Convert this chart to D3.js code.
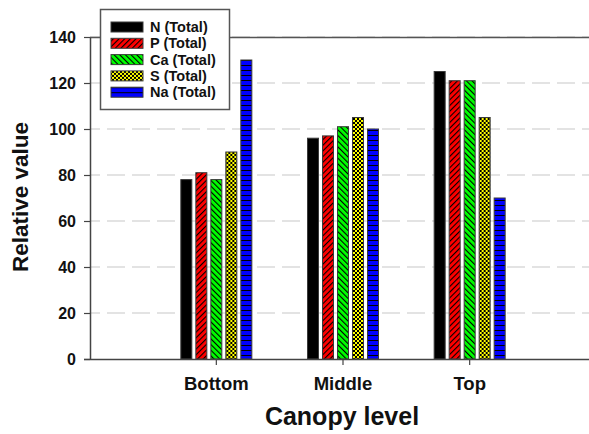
<!DOCTYPE html>
<html>
<head>
<meta charset="utf-8">
<script src="https://cdn.jsdelivr.net/npm/d3@7"></script>
<style>
html,body{margin:0;padding:0;background:#fff;}
svg{display:block;font-family:"Liberation Sans",Arial,sans-serif;font-weight:bold;}
</style>
</head>
<body>
<svg id="chart" width="589" height="434"></svg>
<script>
const categories = ["Bottom", "Middle", "Top"];
const seriesNames = ["N (Total)", "P (Total)", "Ca (Total)", "S (Total)", "Na (Total)"];
const N_vals  = [78, 96, 125];
const P_vals  = [81, 97, 121];
const Ca_vals = [78, 101, 121];
const S_vals  = [90, 105, 105];
const Na_vals = [130, 100, 70];
const yTicks = [0, 20, 40, 60, 80, 100, 120, 140];
const seriesValues = [N_vals, P_vals, Ca_vals, S_vals, Na_vals];
const fills = ["url(#pN)", "url(#pP)", "url(#pCa)", "url(#pS)", "url(#pNa)"];

const svg = d3.select("#chart");
const defs = svg.append("defs");

// patterns
const pN = defs.append("pattern").attr("id","pN").attr("patternUnits","userSpaceOnUse").attr("width",4).attr("height",4);
pN.append("rect").attr("width",4).attr("height",4).attr("fill","#000");

function hatch(id, color, angle){
  const p = defs.append("pattern").attr("id",id).attr("patternUnits","userSpaceOnUse")
    .attr("width",4).attr("height",4).attr("patternTransform","rotate("+angle+")");
  p.append("rect").attr("width",4).attr("height",4).attr("fill",color);
  p.append("line").attr("x1",0).attr("y1",0).attr("x2",0).attr("y2",4).attr("stroke","#000").attr("stroke-width",2.2);
}
hatch("pP", "#ff0000", 45);
hatch("pCa", "#00ff00", -45);

const pS = defs.append("pattern").attr("id","pS").attr("patternUnits","userSpaceOnUse").attr("width",4).attr("height",4);
pS.append("rect").attr("width",4).attr("height",4).attr("fill","#ffff00");
pS.append("rect").attr("x",0).attr("y",0).attr("width",2).attr("height",2).attr("fill","#000");
pS.append("rect").attr("x",2).attr("y",2).attr("width",2).attr("height",2).attr("fill","#000");

const pNa = defs.append("pattern").attr("id","pNa").attr("patternUnits","userSpaceOnUse").attr("width",5).attr("height",5);
pNa.append("rect").attr("width",5).attr("height",5).attr("fill","#0000ff");
pNa.append("line").attr("x1",0).attr("y1",0.5).attr("x2",5).attr("y2",0.5).attr("stroke","#000").attr("stroke-width",1);

// scales
const y = d3.scaleLinear().domain([0,140]).range([359,37]);
const x0 = d3.scaleBand().domain(categories).range([153,533]).paddingInner(0).paddingOuter(0);
const x1 = d3.scaleBand().domain(d3.range(seriesNames.length)).range([-37.5,37.5]).paddingInner(4/15).paddingOuter(2/15);

// gridlines
svg.append("g").selectAll("line").data(yTicks.filter(t=>t>0)).join("line")
  .attr("x1",90).attr("x2",589).attr("y1",d=>y(d)).attr("y2",d=>y(d))
  .attr("stroke","#c8c8c8").attr("stroke-width",1.2).attr("stroke-dasharray","18,7").attr("stroke-dashoffset",8);

// top frame line
svg.append("line").attr("x1",90).attr("x2",589).attr("y1",y(140)+0.5).attr("y2",y(140)+0.5)
  .attr("stroke","#555").attr("stroke-width",1.5);

// bars
const groups = svg.append("g").selectAll("g").data(categories).join("g")
  .attr("transform", d => "translate(" + (x0(d) + x0.bandwidth()/2) + ",0)");
groups.selectAll("rect").data((c,ci) => seriesValues.map((arr,si)=>({si, v:arr[ci]}))).join("rect")
  .attr("x", d => x1(d.si))
  .attr("width", x1.bandwidth())
  .attr("y", d => y(d.v))
  .attr("height", d => y(0) - y(d.v))
  .attr("fill", d => fills[d.si])
  .attr("stroke", "#3a3a3a").attr("stroke-width", 1);

// y axis
const yAxis = svg.append("g").attr("transform","translate(90,0)")
  .call(d3.axisLeft(y).tickValues(yTicks).tickSize(6).tickPadding(8).tickSizeOuter(0));
yAxis.select(".domain").attr("stroke","#444").attr("stroke-width",1.5);
yAxis.selectAll(".tick line").attr("stroke","#444").attr("stroke-width",1.2);
yAxis.selectAll(".tick text").attr("font-family","'Liberation Sans',Arial,sans-serif")
  .attr("font-weight","bold").attr("font-size",16).attr("fill","#111");

// x axis
svg.append("line").attr("x1",84).attr("x2",589).attr("y1",359.5).attr("y2",359.5)
  .attr("stroke","#444").attr("stroke-width",1.5);
const xAxis = svg.append("g").attr("transform","translate(0,359)")
  .call(d3.axisBottom(x0).tickSize(6).tickPadding(12).tickSizeOuter(0));
xAxis.select(".domain").remove();
xAxis.selectAll(".tick line").attr("stroke","#444").attr("stroke-width",1.2);
xAxis.selectAll(".tick text").attr("font-family","'Liberation Sans',Arial,sans-serif")
  .attr("font-weight","bold").attr("font-size",18.5).attr("fill","#111");

// axis titles
svg.append("text").attr("x",342).attr("y",425).attr("text-anchor","middle")
  .attr("font-size",25).attr("fill","#111").text("Canopy level");
svg.append("text").attr("transform","translate(28,197) rotate(-90)").attr("text-anchor","middle")
  .attr("font-size",22.5).attr("fill","#111").text("Relative value");

// legend
const lg = svg.append("g");
lg.append("rect").attr("x",100.5).attr("y",9.5).attr("width",129).attr("height",100)
  .attr("fill","#fff").attr("stroke","#555").attr("stroke-width",1.5);
const rows = lg.selectAll("g").data(seriesNames).join("g")
  .attr("transform",(d,i)=>"translate(0," + (22 + i*16.3) + ")");
rows.append("rect").attr("x",111).attr("y",0).attr("width",32).attr("height",10)
  .attr("fill",(d,i)=>fills[i]).attr("stroke","#3a3a3a").attr("stroke-width",1);
rows.append("text").attr("x",150).attr("y",10).attr("font-size",14.5).attr("fill","#111").text(d=>d);
</script>
</body>
</html>
